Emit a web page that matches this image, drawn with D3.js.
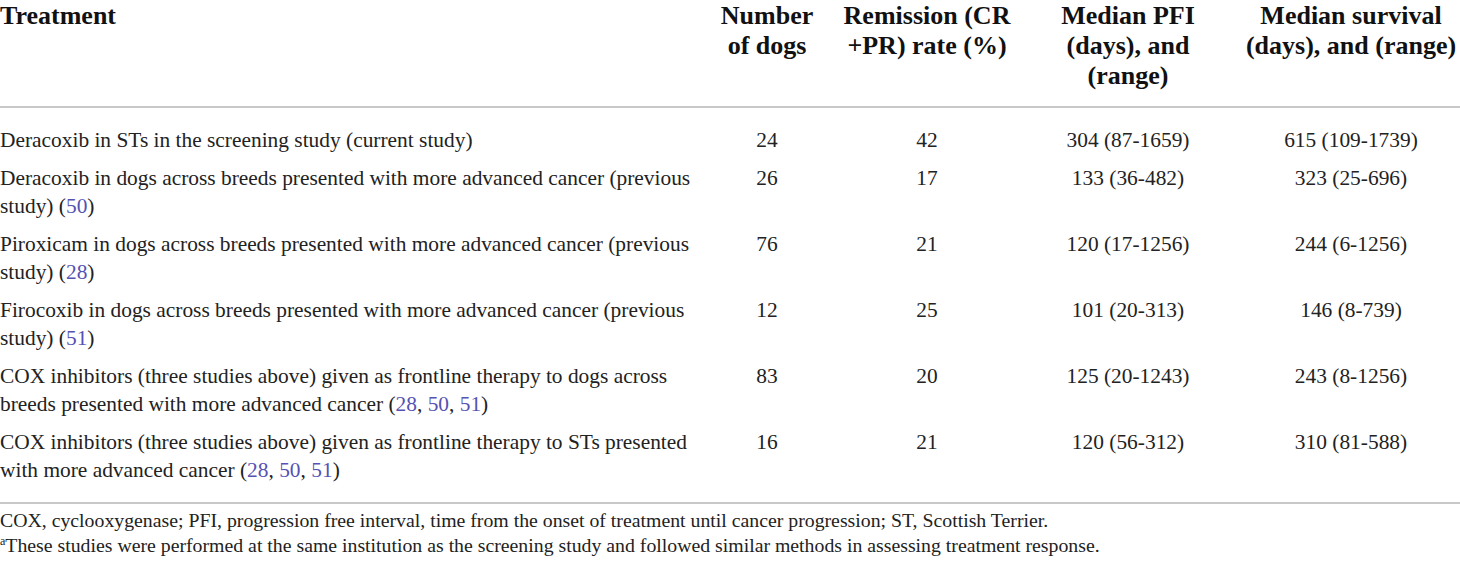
<!DOCTYPE html>
<html>
<head>
<meta charset="utf-8">
<script src="https://cdn.jsdelivr.net/npm/d3@7"></script>
<style>
  body { margin: 0; background: #fff; }
  svg text { font-family: "Liberation Serif", "DejaVu Serif", serif; }
</style>
</head>
<body>
<div id="my_table"></div>
<script>
// table content, [xx] marks a reference link
const headers = [
    ["Treatment"],
    ["Number", "of dogs"],
    ["Remission (CR", "+PR) rate (%)"],
    ["Median PFI", "(days), and", "(range)"],
    ["Median survival", "(days), and (range)"]
];
const treatments = [
    ["Deracoxib in STs in the screening study (current study)"],
    ["Deracoxib in dogs across breeds presented with more advanced cancer (previous", "study) ([50])"],
    ["Piroxicam in dogs across breeds presented with more advanced cancer (previous", "study) ([28])"],
    ["Firocoxib in dogs across breeds presented with more advanced cancer (previous", "study) ([51])"],
    ["COX inhibitors (three studies above) given as frontline therapy to dogs across", "breeds presented with more advanced cancer ([28], [50], [51])"],
    ["COX inhibitors (three studies above) given as frontline therapy to STs presented", "with more advanced cancer ([28], [50], [51])"]
];
const numberOfDogs = [24, 26, 76, 12, 83, 16];
const remissionRate = [42, 17, 21, 25, 20, 21];
const medianPFI = ["304 (87-1659)", "133 (36-482)", "120 (17-1256)", "101 (20-313)", "125 (20-1243)", "120 (56-312)"];
const medianSurvival = ["615 (109-1739)", "323 (25-696)", "244 (6-1256)", "146 (8-739)", "243 (8-1256)", "310 (81-588)"];
const footnotes = [
    "COX, cyclooxygenase; PFI, progression free interval, time from the onset of treatment until cancer progression; ST, Scottish Terrier.",
    "These studies were performed at the same institution as the screening study and followed similar methods in assessing treatment response."
];

const width = 1460, height = 563;
const linkColor = "#5552b3";

const svg = d3.select("#my_table")
    .append("svg")
    .attr("width", width)
    .attr("height", height);

// column positions
const cols = ["treatment", "dogs", "remission", "pfi", "survival"];
const colX = d3.scaleOrdinal().domain(cols).range([0, 767, 927, 1128, 1351]);
const colAnchor = d3.scaleOrdinal().domain(cols).range(["start", "middle", "middle", "middle", "middle"]);

// header
const headerLine = d3.scaleLinear().domain([0, 1]).range([24, 54]);
headers.forEach((lines, i) => {
    const t = svg.append("text")
        .attr("text-anchor", colAnchor(cols[i]))
        .attr("style", "font-size: 26px; font-weight: bold; fill: #111");
    lines.forEach((l, j) => {
        t.append("tspan")
            .attr("x", colX(cols[i]))
            .attr("y", headerLine(j))
            .text(l);
    });
});

// rules
svg.append("line")
    .attr("x1", 0).attr("x2", width)
    .attr("y1", 107).attr("y2", 107)
    .attr("stroke", "#c8c8c8").attr("stroke-width", 2);
svg.append("line")
    .attr("x1", 0).attr("x2", width)
    .attr("y1", 503).attr("y2", 503)
    .attr("stroke", "#c8c8c8").attr("stroke-width", 2);

// body rows: baseline from (lines before, row index)
const lineStep = 28, rowGap = 10;
let lineCount = 0;
const rowY = treatments.map((lines, i) => {
    const y = 146.5 + lineCount * lineStep + i * rowGap;
    lineCount += lines.length;
    return y;
});

function addRich(sel, str) {
    str.split(/(\[[^\]]+\])/).filter(s => s.length).forEach(s => {
        if (s[0] === "[") {
            sel.append("tspan").attr("fill", linkColor).text(s.slice(1, -1));
        } else {
            sel.append("tspan").text(s);
        }
    });
}

const body = svg.append("g")
    .attr("style", "font-size: 21.4px; fill: #222");

treatments.forEach((lines, i) => {
    lines.forEach((l, j) => {
        const t = body.append("text")
            .attr("x", colX("treatment"))
            .attr("y", rowY[i] + j * lineStep);
        addRich(t, l);
    });
});

const cellCols = [["dogs", numberOfDogs], ["remission", remissionRate], ["pfi", medianPFI], ["survival", medianSurvival]];
cellCols.forEach(([key, values]) => {
    body.selectAll("text." + key)
        .data(values)
        .join("text")
        .attr("class", key)
        .attr("x", colX(key))
        .attr("y", (d, i) => rowY[i])
        .attr("text-anchor", colAnchor(key))
        .text(d => d);
});

// footnotes
const foot = svg.append("g").attr("style", "font-size: 19.8px; fill: #222");
foot.append("text").attr("x", 0).attr("y", 527).text(footnotes[0]);
const f2 = foot.append("text").attr("x", 0).attr("y", 552);
f2.append("tspan").attr("style", "font-size: 12px").attr("dy", -7).text("a");
f2.append("tspan").attr("dy", 7).text(footnotes[1]);
</script>
</body>
</html>
